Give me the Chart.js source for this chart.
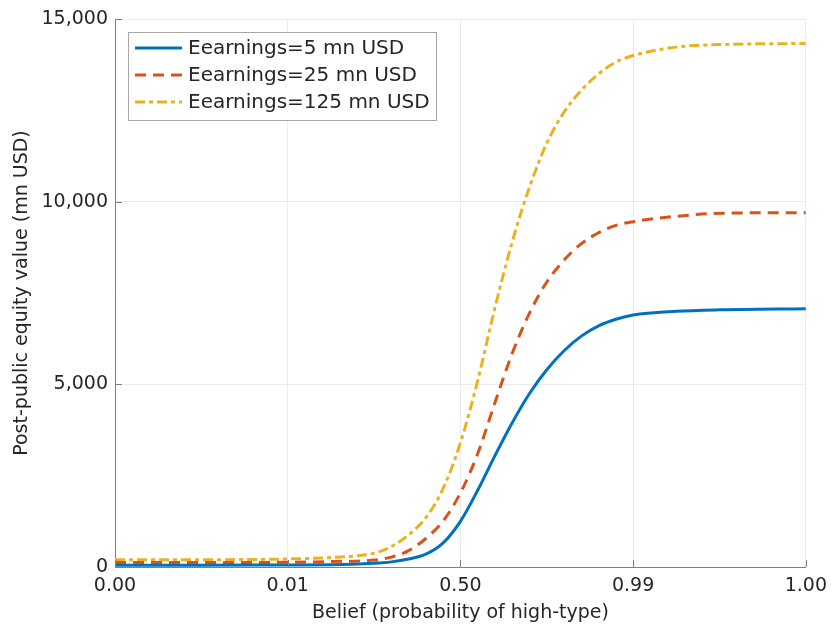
<!DOCTYPE html>
<html>
<head>
<meta charset="utf-8">
<script src="https://cdn.jsdelivr.net/npm/chart.js@4"></script>
<style>
  html, body { margin: 0; padding: 0; background: #fff; }
  #wrap { width: 835px; height: 630px; }
</style>
</head>
<body>
<div id="wrap"><canvas id="chart"></canvas></div>
<script>
  // position along the (non-linear) belief axis, one unit per labelled tick
  const beliefPos = [0, 0.5, 1.0, 1.25, 1.5, 1.6, 1.7, 1.8, 1.9, 2.0, 2.1, 2.2, 2.3, 2.4, 2.5, 2.6, 2.7, 2.8, 2.9, 3.0, 3.25, 3.5, 4.0];
  const beliefTicks = ["0.00", "0.01", "0.50", "0.99", "1.00"];

  const earn5 = [50, 50, 55, 60, 100, 140, 220, 350, 660, 1250, 2100, 3050, 3950, 4750, 5400, 5920, 6320, 6600, 6780, 6900, 7000, 7040, 7070];
  const earn25 = [120, 120, 130, 150, 190, 270, 450, 780, 1260, 2030, 3100, 4500, 5850, 6950, 7800, 8400, 8850, 9150, 9350, 9450, 9600, 9680, 9700];
  const earn125 = [200, 200, 220, 260, 380, 560, 880, 1350, 2150, 3400, 5100, 7100, 8900, 10400, 11600, 12450, 13050, 13500, 13820, 14000, 14230, 14300, 14330];

  const seriesNames = ["Eearnings=5 mn USD", "Eearnings=25 mn USD", "Eearnings=125 mn USD"];
  const yTicks = [0, 5000, 10000, 15000];

  const FONT = "'DejaVu Sans', 'Liberation Sans', Arial, sans-serif";
  const TEXT = "#262626";

  const toPoints = (ys) => ys.map((y, i) => ({ x: beliefPos[i], y }));

  // boxed legend in the upper-left of the plot, MATLAB style
  const boxLegend = {
    id: "boxLegend",
    afterDraw(chart) {
      const { ctx, chartArea } = chart;
      const x0 = chartArea.left + 13, y0 = chartArea.top + 13;
      const w = 308, h = 88;
      ctx.save();
      ctx.fillStyle = "#fff";
      ctx.fillRect(x0, y0, w, h);
      ctx.strokeStyle = "#a6a6a6";
      ctx.lineWidth = 1;
      ctx.strokeRect(x0 + 0.5, y0 + 0.5, w, h);
      chart.data.datasets.forEach((ds, i) => {
        const y = y0 + 16 + i * 27;
        ctx.strokeStyle = ds.borderColor;
        ctx.lineWidth = ds.borderWidth;
        ctx.setLineDash(ds.borderDash || []);
        ctx.beginPath();
        ctx.moveTo(x0 + 7, y);
        ctx.lineTo(x0 + 54, y);
        ctx.stroke();
        ctx.setLineDash([]);
        ctx.fillStyle = TEXT;
        ctx.font = "20px " + FONT;
        ctx.textBaseline = "middle";
        ctx.fillText(seriesNames[i], x0 + 60, y + 1);
      });
      ctx.restore();
    }
  };

  // small inward tick marks on the left and bottom axes
  const innerTicks = {
    id: "innerTicks",
    afterDatasetsDraw(chart) {
      const { ctx, chartArea, scales } = chart;
      ctx.save();
      ctx.strokeStyle = "#7f7f7f";
      ctx.lineWidth = 1;
      ctx.beginPath();
      scales.x.ticks.forEach((t) => {
        const px = Math.round(scales.x.getPixelForValue(t.value)) + 0.5;
        ctx.moveTo(px, chartArea.bottom);
        ctx.lineTo(px, chartArea.bottom - 7);
      });
      scales.y.ticks.forEach((t) => {
        const py = Math.round(scales.y.getPixelForValue(t.value)) + 0.5;
        ctx.moveTo(chartArea.left, py);
        ctx.lineTo(chartArea.left + 7, py);
      });
      ctx.stroke();
      ctx.restore();
    }
  };

  new Chart(document.getElementById("chart"), {
    type: "line",
    data: {
      datasets: [
        { label: seriesNames[0], data: toPoints(earn5), borderColor: "#0072BD", borderWidth: 3 },
        { label: seriesNames[1], data: toPoints(earn25), borderColor: "#D95319", borderWidth: 3, borderDash: [11, 7] },
        { label: seriesNames[2], data: toPoints(earn125), borderColor: "#EDB120", borderWidth: 3, borderDash: [10, 4, 4, 4] }
      ]
    },
    options: {
      responsive: true,
      maintainAspectRatio: false,
      animation: false,
      elements: {
        point: { radius: 0 },
        line: { cubicInterpolationMode: "monotone", fill: false }
      },
      layout: { padding: { left: 0, right: 24, top: 19, bottom: 0 } },
      plugins: { legend: { display: false }, tooltip: { enabled: false } },
      scales: {
        x: {
          type: "linear",
          min: 0,
          max: 4,
          afterBuildTicks: (axis) => { axis.ticks = beliefTicks.map((_, i) => ({ value: i })); },
          afterFit: (axis) => { axis.height = 63; },
          grid: { color: "#ebebeb", drawTicks: false },
          border: { display: true, color: "#7f7f7f" },
          ticks: {
            padding: 8,
            color: TEXT,
            font: { family: FONT, size: 19 },
            callback: (v) => beliefTicks[v] || ""
          },
          title: {
            display: true,
            text: "Belief (probability of high-type)",
            color: TEXT,
            font: { family: FONT, size: 19 },
            padding: { top: 0, bottom: 6 }
          }
        },
        y: {
          type: "linear",
          min: 0,
          max: 15000,
          afterBuildTicks: (axis) => { axis.ticks = yTicks.map((v) => ({ value: v })); },
          afterFit: (axis) => { axis.width = 115; },
          grid: { color: "#ebebeb", drawTicks: false },
          border: { display: true, color: "#7f7f7f" },
          ticks: {
            padding: 7,
            color: TEXT,
            font: { family: FONT, size: 19 },
            callback: (v) => v.toLocaleString("en-US")
          },
          title: {
            display: true,
            text: "Post-public equity value (mn USD)",
            color: TEXT,
            font: { family: FONT, size: 19 },
            padding: { top: 11, bottom: 4 }
          }
        }
      }
    },
    plugins: [boxLegend, innerTicks]
  });
</script>
</body>
</html>
